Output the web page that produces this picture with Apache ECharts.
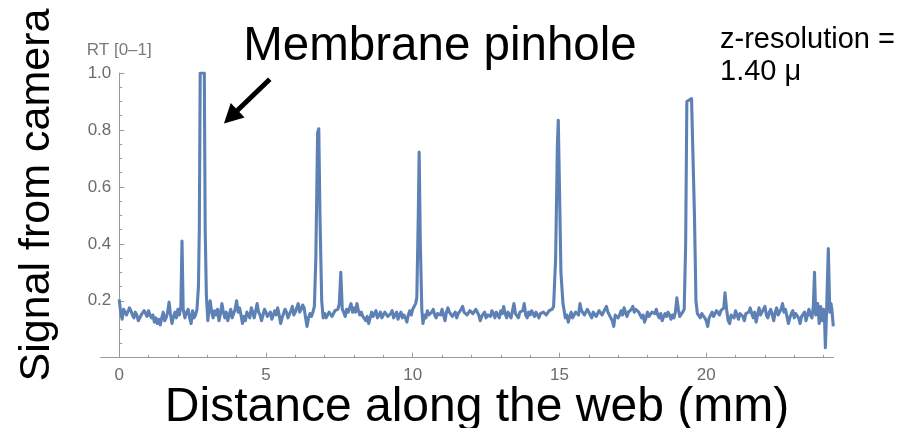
<!DOCTYPE html>
<html>
<head>
<meta charset="utf-8">
<script src="https://cdn.jsdelivr.net/npm/echarts@6/dist/echarts.min.js"></script>
<style>html,body{margin:0;padding:0;background:#fff}#c{width:913px;height:428px}</style>
</head>
<body>
<div id="c"></div>
<script>
// Signal from camera vs distance along the web (mm)
const seg1 = [[0,0.205],[0.05,0.16],[0.1,0.135],[0.15,0.17],[0.2,0.175],[0.25,0.15],[0.3,0.15],[0.35,0.175],[0.4,0.165],[0.45,0.15],[0.5,0.14],[0.55,0.16],[0.6,0.15],[0.65,0.13],[0.7,0.135],[0.75,0.15],[0.8,0.145],[0.85,0.165],[0.9,0.17],[0.95,0.145],[1.0,0.165],[1.05,0.15],[1.1,0.14],[1.15,0.15],[1.2,0.125],[1.25,0.14],[1.3,0.12],[1.35,0.135],[1.4,0.115],[1.45,0.14],[1.5,0.16],[1.55,0.13],[1.6,0.14],[1.65,0.16],[1.7,0.195],[1.75,0.15],[1.8,0.12],[1.85,0.145],[1.9,0.16],[1.95,0.14],[2.0,0.17],[2.05,0.15],[2.1,0.18],[2.14,0.41],[2.18,0.17],[2.24,0.14],[2.3,0.16],[2.35,0.17],[2.4,0.14],[2.45,0.12],[2.5,0.165],[2.55,0.14],[2.6,0.15],[2.65,0.17],[2.7,0.25],[2.73,0.45],[2.76,1.0],[2.9,1.0],[2.93,0.45],[2.97,0.22],[3.02,0.13],[3.06,0.17],[3.1,0.2],[3.15,0.16],[3.2,0.14],[3.25,0.165],[3.3,0.15],[3.35,0.17],[3.4,0.13],[3.45,0.155],[3.5,0.19],[3.55,0.16],[3.6,0.14],[3.65,0.16],[3.7,0.13],[3.75,0.15],[3.8,0.17],[3.85,0.14],[3.9,0.155],[3.95,0.17],[4.0,0.2],[4.05,0.16],[4.1,0.175],[4.15,0.15],[4.2,0.12],[4.25,0.145],[4.3,0.13],[4.35,0.16],[4.4,0.155],[4.45,0.14],[4.5,0.175],[4.55,0.16],[4.6,0.14],[4.65,0.165],[4.7,0.19],[4.75,0.16],[4.8,0.15]];
const seg2 = [[4.85,0.13],[4.9,0.15],[4.95,0.17],[5.0,0.16],[5.05,0.145],[5.1,0.14],[5.15,0.16],[5.2,0.135],[5.25,0.15],[5.3,0.165],[5.35,0.15],[5.4,0.175],[5.45,0.15],[5.5,0.12],[5.55,0.14],[5.6,0.145],[5.65,0.17],[5.7,0.16],[5.75,0.14],[5.8,0.145],[5.85,0.165],[5.9,0.18],[5.95,0.15],[6.0,0.16],[6.05,0.175],[6.1,0.19],[6.15,0.16],[6.2,0.17],[6.25,0.185],[6.3,0.175],[6.35,0.14],[6.4,0.11],[6.45,0.14],[6.5,0.155],[6.55,0.145],[6.6,0.16],[6.65,0.18],[6.7,0.35],[6.76,0.79],[6.8,0.804],[6.84,0.5],[6.9,0.2],[6.95,0.14],[7.0,0.155],[7.05,0.14],[7.1,0.145],[7.15,0.16],[7.2,0.16],[7.25,0.145],[7.3,0.15],[7.35,0.165],[7.4,0.165],[7.45,0.17],[7.5,0.19],[7.55,0.30],[7.6,0.17],[7.65,0.16],[7.7,0.145],[7.75,0.17],[7.8,0.16],[7.85,0.175],[7.9,0.19],[7.95,0.16],[8.0,0.175],[8.05,0.16],[8.1,0.19],[8.15,0.165],[8.2,0.15],[8.25,0.16],[8.3,0.145],[8.35,0.15],[8.4,0.13],[8.45,0.145],[8.5,0.12],[8.55,0.14],[8.6,0.16],[8.65,0.145],[8.7,0.155],[8.75,0.165],[8.8,0.14],[8.85,0.15],[8.9,0.16],[8.95,0.14],[9.0,0.145],[9.05,0.16],[9.1,0.155],[9.15,0.145],[9.2,0.14],[9.25,0.155],[9.3,0.165],[9.35,0.14],[9.4,0.15],[9.45,0.16],[9.5,0.135],[9.55,0.15],[9.6,0.16],[9.65,0.14],[9.7,0.15],[9.75,0.14]];
const seg3 = [[9.8,0.125],[9.85,0.15],[9.9,0.165],[9.95,0.15],[10.0,0.17],[10.05,0.18],[10.1,0.19],[10.14,0.21],[10.19,0.5],[10.22,0.722],[10.26,0.4],[10.31,0.17],[10.35,0.12],[10.4,0.15],[10.45,0.14],[10.5,0.165],[10.55,0.15],[10.6,0.145],[10.65,0.16],[10.7,0.17],[10.75,0.15],[10.8,0.14],[10.85,0.155],[10.9,0.16],[10.95,0.15],[11.0,0.17],[11.05,0.15],[11.1,0.13],[11.15,0.16],[11.2,0.175],[11.25,0.16],[11.3,0.165],[11.35,0.145],[11.4,0.15],[11.45,0.16],[11.5,0.14],[11.55,0.155],[11.6,0.16],[11.65,0.17],[11.7,0.18],[11.75,0.16],[11.8,0.165],[11.85,0.15],[11.9,0.155],[11.95,0.165],[12.0,0.17],[12.05,0.155],[12.1,0.16],[12.15,0.17],[12.2,0.175],[12.25,0.15],[12.3,0.13],[12.35,0.145],[12.4,0.15],[12.45,0.16],[12.5,0.14],[12.55,0.15],[12.6,0.155],[12.65,0.145],[12.7,0.165],[12.75,0.155],[12.8,0.14],[12.85,0.16],[12.9,0.15],[12.95,0.14],[13.0,0.165],[13.05,0.155],[13.1,0.18],[13.15,0.155],[13.2,0.14],[13.25,0.16],[13.3,0.15],[13.35,0.14],[13.4,0.145],[13.45,0.19],[13.5,0.155],[13.55,0.15],[13.6,0.14],[13.65,0.16],[13.7,0.155],[13.75,0.165],[13.8,0.19],[13.85,0.15],[13.9,0.14],[13.95,0.16],[14.0,0.15],[14.05,0.165],[14.1,0.155],[14.15,0.145],[14.2,0.16],[14.25,0.15],[14.3,0.14],[14.35,0.155],[14.4,0.15],[14.45,0.16],[14.5,0.165],[14.55,0.15]];
const seg4 = [[14.6,0.155],[14.65,0.165],[14.7,0.16],[14.75,0.17],[14.8,0.18],[14.87,0.35],[14.93,0.75],[14.96,0.834],[15.0,0.6],[15.05,0.3],[15.12,0.19],[15.2,0.14],[15.25,0.15],[15.3,0.125],[15.35,0.145],[15.4,0.16],[15.45,0.14],[15.5,0.15],[15.55,0.16],[15.6,0.165],[15.65,0.15],[15.7,0.19],[15.75,0.165],[15.8,0.17],[15.85,0.15],[15.9,0.16],[15.95,0.17],[16.0,0.165],[16.05,0.15],[16.1,0.14],[16.15,0.16],[16.2,0.155],[16.25,0.145],[16.3,0.15],[16.35,0.165],[16.4,0.17],[16.45,0.15],[16.5,0.16],[16.55,0.17],[16.6,0.18],[16.65,0.16],[16.7,0.15],[16.75,0.14],[16.8,0.13],[16.85,0.11],[16.9,0.15],[16.95,0.155],[17.0,0.14],[17.05,0.15],[17.1,0.165],[17.15,0.15],[17.2,0.175],[17.25,0.16],[17.3,0.145],[17.35,0.16],[17.4,0.155],[17.45,0.17],[17.5,0.18],[17.55,0.16],[17.6,0.17],[17.65,0.175],[17.7,0.16],[17.75,0.15],[17.8,0.14],[17.85,0.15],[17.9,0.125],[17.95,0.14],[18.0,0.16],[18.05,0.145],[18.1,0.15],[18.15,0.16],[18.2,0.165],[18.25,0.155],[18.3,0.17],[18.35,0.15],[18.4,0.14],[18.45,0.155],[18.5,0.13],[18.55,0.145],[18.6,0.155],[18.65,0.145],[18.7,0.16],[18.75,0.15],[18.8,0.135],[18.85,0.15],[18.9,0.14],[18.95,0.16],[19.0,0.21],[19.05,0.17],[19.1,0.145],[19.15,0.15],[19.2,0.16],[19.25,0.17],[19.3,0.4],[19.34,0.9],[19.4,0.905],[19.5,0.91],[19.55,0.905],[19.6,0.5],[19.65,0.2]];
const seg5 = [[19.7,0.155],[19.75,0.16],[19.8,0.14],[19.85,0.155],[19.9,0.15],[19.95,0.14],[20.0,0.13],[20.05,0.11],[20.1,0.14],[20.15,0.15],[20.2,0.16],[20.25,0.145],[20.3,0.15],[20.35,0.165],[20.4,0.16],[20.45,0.15],[20.5,0.165],[20.55,0.16],[20.6,0.175],[20.64,0.228],[20.7,0.165],[20.75,0.13],[20.8,0.12],[20.85,0.15],[20.9,0.155],[20.95,0.14],[21.0,0.165],[21.05,0.15],[21.1,0.135],[21.15,0.155],[21.2,0.15],[21.25,0.145],[21.3,0.13],[21.35,0.155],[21.4,0.15],[21.45,0.16],[21.5,0.175],[21.55,0.155],[21.6,0.14],[21.65,0.16],[21.7,0.125],[21.75,0.15],[21.8,0.175],[21.85,0.15],[21.9,0.16],[21.95,0.17],[22.0,0.18],[22.05,0.15],[22.1,0.14],[22.15,0.16],[22.2,0.17],[22.25,0.15],[22.3,0.13],[22.35,0.16],[22.4,0.175],[22.45,0.15],[22.5,0.16],[22.55,0.17],[22.6,0.19],[22.65,0.16],[22.7,0.17],[22.75,0.145],[22.8,0.12],[22.85,0.14],[22.9,0.155],[22.95,0.165],[23.0,0.14],[23.05,0.155],[23.1,0.16],[23.15,0.14],[23.2,0.12],[23.25,0.145],[23.3,0.15],[23.35,0.16],[23.4,0.13],[23.45,0.15],[23.5,0.17],[23.55,0.15],[23.6,0.14],[23.65,0.18],[23.69,0.30],[23.73,0.15],[23.77,0.17],[23.8,0.19],[23.85,0.12],[23.9,0.18],[23.95,0.13],[24.0,0.17],[24.03,0.14],[24.06,0.035],[24.1,0.16],[24.16,0.383],[24.21,0.16],[24.25,0.19],[24.28,0.17],[24.33,0.11]];

const xLabelTicks = [0,5,10,15,20];
const xMinorTicks = [1,2,3,4,6,7,8,9,11,12,13,14,16,17,18,19,21,22,23,24];
const arrowTail = [5.13, 0.978];
const arrowTip = [3.57, 0.823];

const AX = '#9a9a9a', LB = '#6b6b6b', LINE = '#5E81B5';
const FONT = 'Liberation Sans, Arial, sans-serif';

const chart = echarts.init(document.getElementById('c'), null, {renderer:'canvas'});
chart.setOption({
  animation:false,
  backgroundColor:'#fff',
  grid:{left:100.7, right:79.7, top:73, bottom:70.3, containLabel:false},
  xAxis:[{
    type:'value', min:-0.63, max:24.33, position:'bottom',
    axisLine:{show:true, onZero:true, lineStyle:{color:AX, width:1}},
    axisTick:{show:true, inside:true, length:5, customValues:xLabelTicks, lineStyle:{color:AX}},
    axisLabel:{show:true, customValues:xLabelTicks, color:LB, fontSize:17, fontFamily:FONT, margin:9},
    splitLine:{show:false}
  },{
    type:'value', min:-0.63, max:24.33, position:'bottom',
    axisLine:{show:false},
    axisTick:{show:true, inside:true, length:3, customValues:xMinorTicks, lineStyle:{color:AX}},
    axisLabel:{show:false},
    splitLine:{show:false}
  }],
  yAxis:{
    type:'value', min:0, max:1, interval:0.2, position:'left', offset:-18.6,
    name:'RT [0–1]', nameLocation:'end', nameGap:14,
    nameTextStyle:{color:'#7a7a7a', fontSize:17, fontFamily:FONT, align:'center'},
    axisLine:{show:true, onZero:false, lineStyle:{color:AX, width:1}},
    axisTick:{show:true, inside:true, length:5, lineStyle:{color:AX}},
    minorTick:{show:true, splitNumber:4, length:3, lineStyle:{color:AX}},
    axisLabel:{color:LB, fontSize:17, fontFamily:FONT, margin:8,
      formatter:v => v === 0 ? '' : v.toFixed(1)},
    splitLine:{show:false}, minorSplitLine:{show:false}
  },
  series:[{
    type:'line', xAxisIndex:0, yAxisIndex:0,
    data:[].concat(seg1, seg2, seg3, seg4, seg5),
    showSymbol:false, symbol:'none', clip:true,
    lineStyle:{color:LINE, width:3.1, join:'round'},
    silent:true
  }],
  graphic:[
    {id:'ylab', type:'text', x:37, y:195, rotation:Math.PI/2,
      style:{text:'Signal from camera', x:0, y:0, align:'center', verticalAlign:'middle', textAlign:'center', textVerticalAlign:'middle', font:'43px ' + FONT, fill:'#000'}},
    {id:'xlab', type:'text', x:477, y:408,
      style:{text:'Distance along the web (mm)', align:'center', verticalAlign:'middle', textAlign:'center', textVerticalAlign:'middle', font:'48px ' + FONT, fill:'#000'}},
    {id:'ann', type:'text', x:440, y:47,
      style:{text:'Membrane pinhole', align:'center', verticalAlign:'middle', textAlign:'center', textVerticalAlign:'middle', font:'47.5px ' + FONT, fill:'#000'}},
    {id:'zr1', type:'text', x:720, y:40,
      style:{text:'z-resolution =', align:'left', verticalAlign:'middle', textAlign:'left', textVerticalAlign:'middle', font:'29px ' + FONT, fill:'#000'}},
    {id:'zr2', type:'text', x:720, y:72,
      style:{text:'1.40 μ', align:'left', verticalAlign:'middle', textAlign:'left', textVerticalAlign:'middle', font:'29px ' + FONT, fill:'#000'}}
  ]
});

// Arrow annotation placed through the chart's own scales
const t = chart.convertToPixel({gridIndex:0}, arrowTail);
const h = chart.convertToPixel({gridIndex:0}, arrowTip);
const dx = h[0] - t[0], dy = h[1] - t[1];
const L = Math.sqrt(dx*dx + dy*dy), ux = dx / L, uy = dy / L;
const headLen = 19, headHalf = 10;
const bx = h[0] - ux*headLen, by = h[1] - uy*headLen;
chart.setOption({graphic:[
  {id:'arrLine', type:'line', shape:{x1:t[0], y1:t[1], x2:bx + ux*3, y2:by + uy*3},
    style:{stroke:'#000', lineWidth:5, lineCap:'butt'}},
  {id:'arrHead', type:'polygon', shape:{points:[[h[0],h[1]],[bx - uy*headHalf, by + ux*headHalf],[bx + uy*headHalf, by - ux*headHalf]]},
    style:{fill:'#000'}}
]});
</script>
</body>
</html>
